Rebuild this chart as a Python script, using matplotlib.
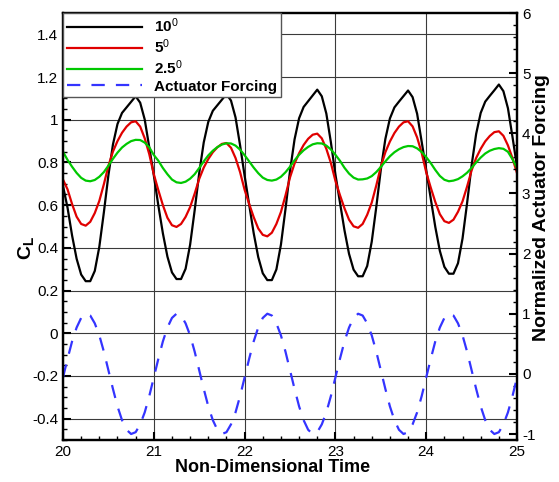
import matplotlib.pyplot as plt
import numpy as np
from matplotlib.ticker import MultipleLocator

plt.rcParams['font.family'] = 'Liberation Sans'
plt.rcParams['mathtext.fontset'] = 'custom'
plt.rcParams['mathtext.rm'] = 'Liberation Sans'
plt.rcParams['mathtext.it'] = 'Liberation Sans:italic'
plt.rcParams['mathtext.bf'] = 'Liberation Sans:bold'

# sample times (every 0.05)
time = np.linspace(20, 25, 101)

# lift coefficient, 10 deg
cl_10 = [0.690, 0.588, 0.458, 0.349, 0.275, 0.244, 0.244, 0.292, 0.405, 0.566,
         0.740, 0.884, 0.980, 1.032, 1.058, 1.084, 1.110, 1.080, 1.001, 0.871,
         0.740, 0.598, 0.468, 0.359, 0.285, 0.254, 0.254, 0.302, 0.415, 0.576,
         0.750, 0.894, 0.990, 1.042, 1.068, 1.094, 1.120, 1.090, 1.011, 0.881,
         0.738, 0.603, 0.469, 0.357, 0.281, 0.249, 0.249, 0.299, 0.415, 0.581,
         0.760, 0.908, 1.007, 1.060, 1.087, 1.114, 1.141, 1.110, 1.029, 0.895,
         0.744, 0.613, 0.482, 0.372, 0.298, 0.267, 0.267, 0.315, 0.429, 0.591,
         0.766, 0.910, 1.006, 1.058, 1.085, 1.111, 1.137, 1.106, 1.028, 0.897,
         0.765, 0.631, 0.498, 0.386, 0.311, 0.279, 0.279, 0.328, 0.444, 0.609,
         0.787, 0.934, 1.032, 1.085, 1.112, 1.138, 1.165, 1.134, 1.054, 0.920,
         0.780]

# 5 deg
cl_5 = [0.720, 0.674, 0.605, 0.546, 0.512, 0.504, 0.522, 0.563, 0.620, 0.698,
        0.784, 0.851, 0.900, 0.939, 0.968, 0.988, 0.993, 0.968, 0.913, 0.839,
        0.745, 0.670, 0.600, 0.541, 0.506, 0.498, 0.512, 0.545, 0.591, 0.654,
        0.723, 0.776, 0.816, 0.848, 0.871, 0.887, 0.891, 0.869, 0.821, 0.755,
        0.672, 0.606, 0.544, 0.491, 0.461, 0.454, 0.471, 0.512, 0.568, 0.645,
        0.730, 0.795, 0.843, 0.882, 0.911, 0.930, 0.935, 0.913, 0.864, 0.798,
        0.714, 0.647, 0.585, 0.532, 0.501, 0.494, 0.512, 0.555, 0.612, 0.692,
        0.780, 0.848, 0.898, 0.938, 0.968, 0.988, 0.993, 0.969, 0.917, 0.845,
        0.754, 0.682, 0.615, 0.558, 0.525, 0.517, 0.532, 0.569, 0.618, 0.687,
        0.763, 0.821, 0.864, 0.899, 0.924, 0.942, 0.946, 0.925, 0.880, 0.820,
        0.750]

# 2.5 deg
cl_25 = [0.850, 0.812, 0.780, 0.751, 0.728, 0.715, 0.712, 0.718, 0.733, 0.755,
         0.785, 0.817, 0.846, 0.870, 0.887, 0.900, 0.906, 0.905, 0.893, 0.871,
         0.835, 0.808, 0.774, 0.745, 0.720, 0.707, 0.704, 0.710, 0.724, 0.745,
         0.774, 0.805, 0.833, 0.855, 0.872, 0.884, 0.890, 0.889, 0.879, 0.860,
         0.834, 0.805, 0.776, 0.750, 0.729, 0.718, 0.715, 0.720, 0.733, 0.754,
         0.780, 0.810, 0.836, 0.857, 0.873, 0.885, 0.890, 0.889, 0.879, 0.861,
         0.836, 0.808, 0.775, 0.748, 0.729, 0.720, 0.721, 0.725, 0.736, 0.755,
         0.779, 0.805, 0.829, 0.848, 0.862, 0.872, 0.877, 0.876, 0.866, 0.849,
         0.825, 0.797, 0.765, 0.737, 0.719, 0.712, 0.715, 0.722, 0.735, 0.752,
         0.775, 0.800, 0.823, 0.842, 0.855, 0.863, 0.867, 0.864, 0.850, 0.815,
         0.774]

# normalized actuator forcing (right axis)
forcing = [-0.06, 0.25, 0.54, 0.77, 0.93, 1.00, 0.97, 0.84, 0.64, 0.37,
           0.06, -0.25, -0.54, -0.77, -0.93, -1.00, -0.97, -0.84, -0.64, -0.37,
           -0.06, 0.25, 0.54, 0.77, 0.93, 1.00, 0.97, 0.84, 0.64, 0.37,
           0.06, -0.25, -0.54, -0.77, -0.93, -1.00, -0.97, -0.84, -0.64, -0.37,
           -0.06, 0.25, 0.54, 0.77, 0.93, 1.00, 0.97, 0.84, 0.64, 0.37,
           0.06, -0.25, -0.54, -0.77, -0.93, -1.00, -0.97, -0.84, -0.64, -0.37,
           -0.06, 0.25, 0.54, 0.77, 0.93, 1.00, 0.97, 0.84, 0.64, 0.37,
           0.06, -0.25, -0.54, -0.77, -0.93, -1.00, -0.97, -0.84, -0.64, -0.37,
           -0.06, 0.25, 0.54, 0.77, 0.93, 1.00, 0.97, 0.84, 0.64, 0.37,
           0.06, -0.25, -0.54, -0.77, -0.93, -1.00, -0.97, -0.84, -0.64, -0.37,
           -0.06]

x_ticks = [20, 21, 22, 23, 24, 25]
left_ticks = [-0.4, -0.2, 0, 0.2, 0.4, 0.6, 0.8, 1, 1.2, 1.4]
right_ticks = [-1, 0, 1, 2, 3, 4, 5, 6]

fig = plt.figure(figsize=(5.59, 4.82), dpi=100)
ax = fig.add_axes([0.1127, 0.0871, 0.8122, 0.8859])

l1, = ax.plot(time, cl_10, color='black', lw=1.6, label=r'$\mathbf{10}^{0}$')
l2, = ax.plot(time, cl_5, color='#e00000', lw=1.6, label=r'$\mathbf{5}^{0}$')
l3, = ax.plot(time, cl_25, color='#00c800', lw=1.6, label=r'$\mathbf{2.5}^{0}$')

ax.set_xlim(20, 25)
ax.set_ylim(-0.5, 1.5)
ax.set_xticks(x_ticks)
ax.set_xticklabels(['%g' % v for v in x_ticks])
ax.set_yticks(left_ticks)
ax.set_yticklabels(['%g' % v for v in left_ticks])
ax.xaxis.set_minor_locator(MultipleLocator(0.2))
ax.yaxis.set_minor_locator(MultipleLocator(0.05))
ax.grid(True, which='major', color='#3a3a3a', lw=0.8)
ax.tick_params(which='both', direction='in', top=False, right=False, labelsize=11)
ax.tick_params(which='major', length=6, width=1.5)
ax.tick_params(which='minor', length=3, width=1)

ax.set_xlabel('Non-Dimensional Time', fontsize=13, fontweight='bold')
ax.xaxis.set_label_coords(0.4615, -0.045)
ax.set_ylabel(r'$\mathbf{C_L}$', fontsize=14)
ax.yaxis.set_label_coords(-0.06, 0.45)

ax2 = ax.twinx()
l4, = ax2.plot(time, forcing, color='#3434ff', lw=1.6, dashes=(6, 5),
               label='Actuator Forcing')
ax2.set_ylim(-1.1, 6)
ax2.set_yticks(right_ticks)
ax2.set_yticklabels(['%g' % v for v in right_ticks])
ax2.yaxis.set_minor_locator(MultipleLocator(0.2))
ax2.tick_params(which='both', direction='in', labelsize=11)
ax2.tick_params(which='major', length=6, width=1.5)
ax2.tick_params(which='minor', length=3, width=1)
ax2.set_ylabel('Normalized Actuator Forcing', fontsize=14, fontweight='bold')
ax2.yaxis.set_label_coords(1.035, 0.545)

for a in (ax, ax2):
    for s in a.spines.values():
        s.set_linewidth(1.6)

leg = ax2.legend([l1, l2, l3, l4], [l.get_label() for l in (l1, l2, l3, l4)],
                 loc='upper left', bbox_to_anchor=(0, 1), borderaxespad=0,
                 fancybox=False, framealpha=1, edgecolor='#555555',
                 handlelength=4.9, handletextpad=0.8, labelspacing=0.15,
                 borderpad=0.25, prop={'weight': 'bold', 'size': 11})
leg.get_frame().set_linewidth(1.0)

fig.savefig('out.png', dpi=100)
